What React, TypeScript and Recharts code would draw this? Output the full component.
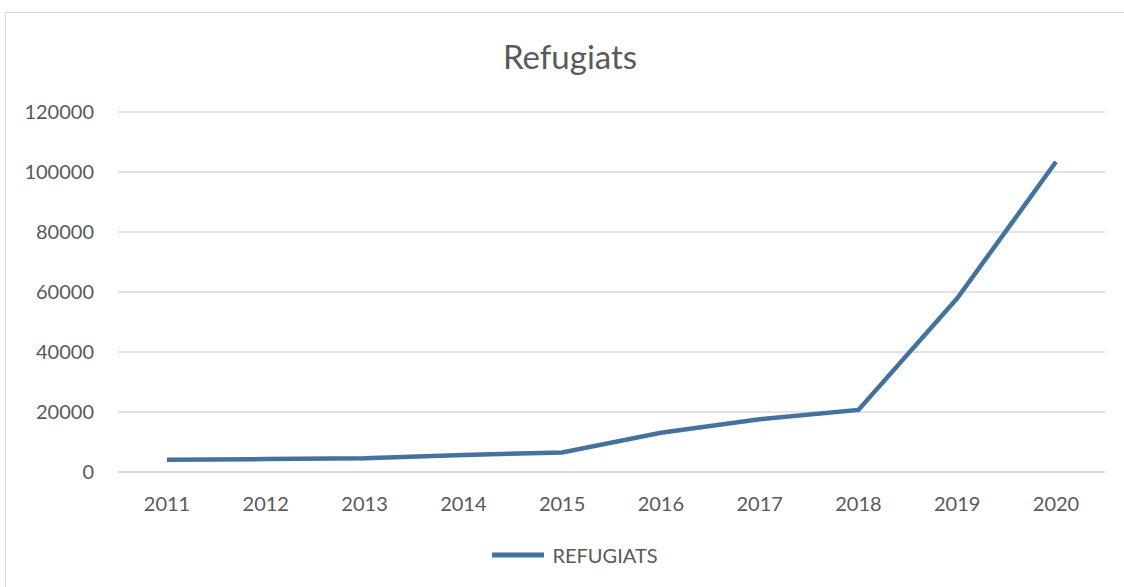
import React from 'react';
import { LineChart, Line, XAxis, YAxis, CartesianGrid } from 'recharts';

const years = ['2011', '2012', '2013', '2014', '2015', '2016', '2017', '2018', '2019', '2020'];
const refugiats = [4100, 4300, 4600, 5700, 6500, 13100, 17600, 20700, 57900, 103400];
const yTicks = [0, 20000, 40000, 60000, 80000, 100000, 120000];
const seriesName = 'REFUGIATS';
const title = 'Refugiats';

const data = years.map((y, i) => ({ year: y, value: refugiats[i] }));

const FONT = 'Lato, "Open Sans", sans-serif';
const LINE_COLOR = '#43729E';
const TEXT_COLOR = '#595959';

export default function App() {
  return (
    <div style={{ position: 'absolute', left: 0, top: 0, width: 1124, height: 587, background: '#fff', overflow: 'hidden' }}>
      <div style={{ position: 'absolute', left: 5, top: 12, width: 1130, height: 600, border: '1.5px solid #D9D9D9', boxSizing: 'border-box' }} />
      <div style={{ position: 'absolute', left: 0, top: 36, width: 1140, textAlign: 'center', fontFamily: FONT, fontSize: 33, color: TEXT_COLOR }}>
        {title}
      </div>
      <div style={{ position: 'absolute', left: 0, top: 0 }}>
        <LineChart width={1124} height={587} data={data} margin={{ top: 112, right: 19, bottom: 55, left: 0 }}>
          <CartesianGrid horizontal vertical={false} stroke="#D9D9D9" strokeWidth={1.5} />
          <XAxis
            dataKey="year"
            axisLine={{ stroke: '#D9D9D9', strokeWidth: 1.5 }}
            tickLine={false}
            tickSize={0}
            tickMargin={25}
            height={60}
            padding={{ left: 49, right: 49 }}
            tick={{ fill: TEXT_COLOR, fontSize: 20, fontFamily: FONT }}
            interval={0}
          />
          <YAxis
            width={118}
            domain={[0, 120000]}
            ticks={yTicks}
            axisLine={false}
            tickLine={false}
            tickSize={0}
            tickMargin={24}
            tick={{ fill: TEXT_COLOR, fontSize: 20, fontFamily: FONT }}
          />
          <Line
            type="linear"
            dataKey="value"
            name={seriesName}
            stroke={LINE_COLOR}
            strokeWidth={4.5}
            dot={false}
            activeDot={false}
            isAnimationActive={false}
          />
        </LineChart>
      </div>
      <div style={{ position: 'absolute', left: 0, top: 543, width: 1150, display: 'flex', justifyContent: 'center', alignItems: 'center', fontFamily: FONT, fontSize: 20, color: TEXT_COLOR }}>
        <svg width={52} height={10} style={{ marginRight: 8 }}>
          <line x1={0} y1={5} x2={52} y2={5} stroke={LINE_COLOR} strokeWidth={5} />
        </svg>
        <span>{seriesName}</span>
      </div>
    </div>
  );
}
